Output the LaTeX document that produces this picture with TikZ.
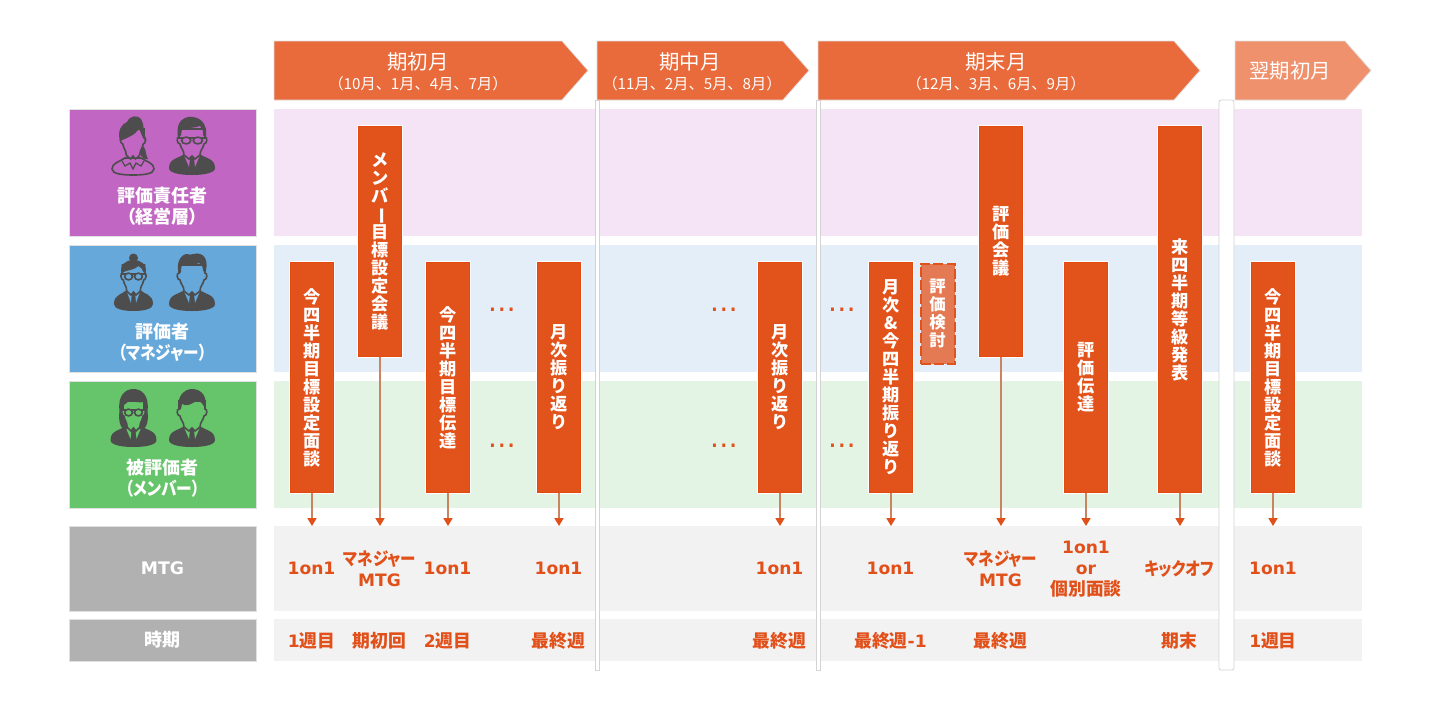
\documentclass[tikz,border=0pt]{standalone}
\usepackage{fontspec}
\usepackage{graphicx}
\usepackage{xcolor}
\usepackage{tikz}
\usetikzlibrary{arrows.meta}

\setmainfont{Noto Sans CJK JP}
\newfontfamily\kanafont[RawFeature=+palt]{Noto Sans CJK JP}
\newfontfamily\slimkana[RawFeature=+palt, FakeStretch=0.87]{Noto Sans CJK JP}
\newfontfamily\latn[Scale=0.96]{DejaVu Sans}
\newcommand{\lat}[1]{{\latn\bfseries #1}}
\newcommand{\slim}[1]{{\slimkana\bfseries #1}}
\newcommand{\tatebar}{\rotatebox[origin=c]{-90}{ー}}
\newcommand{\tightlines}{\setlength{\lineskiplimit}{-20pt}}

\definecolor{headorange}{HTML}{E96A3B}
\definecolor{headpale}{HTML}{EF916C}
\definecolor{barorange}{HTML}{E2521B}
\definecolor{barline}{HTML}{E4490F}
\definecolor{barpale}{HTML}{E37A53}
\definecolor{textorange}{HTML}{E2501A}
\definecolor{arrowline}{HTML}{C98562}
\definecolor{rowpurple}{HTML}{C166C2}
\definecolor{rowblue}{HTML}{66A8DA}
\definecolor{rowgreen}{HTML}{66C46A}
\definecolor{rowgrey}{HTML}{B1B1B1}
\definecolor{bandpurple}{HTML}{F5E4F5}
\definecolor{bandblue}{HTML}{E3EEF8}
\definecolor{bandgreen}{HTML}{E3F3E4}
\definecolor{bandgrey}{HTML}{F2F2F2}
\definecolor{icondark}{HTML}{4D4D4D}
\definecolor{stripline}{HTML}{D4D4D4}

\tikzset{
	sized/.style 2 args={minimum width=#1*0.5pt, minimum height=#2*0.5pt, inner sep=0pt, outer sep=0pt},
	rowlabel/.style={fill=#1, draw=black!12, line width=0.25pt, text=white},
	band/.style={fill=#1},
	strip/.style={fill=white, draw=stripline, line width=0.4pt},
	headbar/.style={fill=#1, draw=black!12, line width=0.4pt},
	headmain/.style={text=white, align=center, font=\fontsize{10.2}{12}\selectfont},
	headsub/.style={text=white, align=center, font=\fontsize{7.6}{10}\selectfont},
	whitetext/.style={text=white, align=center, font=\kanafont\fontsize{9}{10.5}\selectfont\bfseries\tightlines},
	vbar/.style={sized={43}{#1}, fill=barorange, draw=barline, line width=0.5pt, preaction={draw=white, line width=1.4pt},
		text=white, align=center, font=\fontsize{8.6}{9}\selectfont\bfseries\tightlines},
	paledbar/.style={sized={34}{100}, fill=barpale, draw=barorange, line width=1pt, dash pattern=on 5pt off 1.6pt,
		text=white, align=center, font=\fontsize{8.2}{9}\selectfont\bfseries\tightlines},
	labeltext/.style={text=textorange, align=center, font=\kanafont\fontsize{8.9}{10.5}\selectfont\bfseries\tightlines},
	moredots/.style={text=textorange, font=\latn\fontsize{14.6}{14}\selectfont},
	toband/.style={draw=arrowline, line width=0.6pt, -{Triangle[length=4pt, width=4.6pt, fill=textorange, color=textorange]}},
	iconline/.style={draw=icondark, line width=0.8pt},
	pics/bust/.style={code={
		\fill[icondark] (-8,37) .. controls (-12,41) and (-23,41) .. (-23,51) .. controls (-23,56) and (-12,58) .. (0,58) .. controls (12,58) and (23,56) .. (23,51) .. controls (23,41) and (12,41) .. (8,37) -- cycle;
		\fill[#1] (-8,38) -- (-2,41) -- (-3,50) -- cycle (8,38) -- (2,41) -- (3,50) -- cycle;
	}},
	pics/outlinebust/.style={code={
		\draw[iconline, fill=#1] (-8,41) .. controls (-14,45) and (-21,46) .. (-21,52) .. controls (-21,57) and (-10,58) .. (0,58) .. controls (10,58) and (21,57) .. (21,52) .. controls (21,46) and (14,45) .. (8,41) -- cycle;
		\draw[iconline, line width=0.6pt] (-11,44) -- (-8,49) -- (-3,46) -- (0,52) -- (3,46) -- (8,49) -- (11,44);
	}},
	pics/face/.style={code={
		\draw[iconline, fill=#1] (-13,12) -- (-13,20) .. controls (-16,20) and (-15,27) .. (-12,27) .. controls (-11,32) and (-8,33) .. (-8,38) -- (-3,42) -- (0,39) -- (3,42) -- (8,38) .. controls (8,33) and (11,32) .. (12,27) .. controls (15,27) and (16,20) .. (13,20) -- (13,12) -- cycle;
	}},
	pics/glasses/.style={code={
		\draw[iconline, line width=0.7pt] (-15,21) -- (15,21);
		\draw[iconline, line width=0.8pt, fill=#1] (-5.8,23.5) ellipse (4.6 and 3.4) (5.8,23.5) ellipse (4.6 and 3.4);
	}},
}

\begin{document}
\begin{tikzpicture}[x=0.5pt, y=-0.5pt]
	\useasboundingbox (0,0) rectangle (1440,720);
	\fill[white] (0,0) rectangle (1440,720);

	\node[sized={1088}{127}, band=bandpurple] (bandtop) at (818,172.5) {};
	\node[sized={1088}{127}, band=bandblue] (bandmid) at (818,308.5) {};
	\node[sized={1088}{127}, band=bandgreen] (bandlow) at (818,444.5) {};
	\node[sized={1088}{85}, band=bandgrey] (bandmtg) at (818,568.5) {};
	\node[sized={1088}{42}, band=bandgrey] (bandtime) at (818,640) {};

	\node[sized={4}{570}, strip] (strip1) at (597.5,385) {};
	\node[sized={4}{570}, strip] (strip2) at (818.5,385) {};
	\node[sized={15}{570}, strip, rounded corners=1pt] (strip3) at (1226.5,385) {};

	\path[headbar=headorange] (274,41) -- (562,41) -- (588,70.5) -- (562,100) -- (274,100) -- cycle;
	\path[headbar=headorange] (597,41) -- (783,41) -- (809,70.5) -- (783,100) -- (597,100) -- cycle;
	\path[headbar=headorange] (818,41) -- (1174,41) -- (1200,70.5) -- (1174,100) -- (818,100) -- cycle;
	\path[headbar=headpale] (1235,41) -- (1345,41) -- (1371,70.5) -- (1345,100) -- (1235,100) -- cycle;
	\node[headmain] (head1) at (418,62) {期初月};
	\node[headsub] (sub1) at (418,84) {（10月、1月、4月、7月）};
	\node[headmain] (head2) at (690,62) {期中月};
	\node[headsub] (sub2) at (692,84) {（11月、2月、5月、8月）};
	\node[headmain] (head3) at (996,62) {期末月};
	\node[headsub] (sub3) at (996,84) {（12月、3月、6月、9月）};
	\node[headmain] (head4) at (1290,70.5) {翌期初月};

	\node[sized={187}{127}, rowlabel=rowpurple] (rowtop) at (162.5,172.5) {};
	\node[sized={187}{127}, rowlabel=rowblue] (rowmid) at (162.5,308.5) {};
	\node[sized={187}{127}, rowlabel=rowgreen] (rowlow) at (162.5,444.5) {};
	\node[sized={187}{85}, rowlabel=rowgrey] (rowmtg) at (162.5,568.5) {};
	\node[sized={187}{42}, rowlabel=rowgrey] (rowtime) at (162.5,640) {};
	\node[whitetext] (toplabel) at (162.5,206) {評価責任者\\（経営層）};
	\node[whitetext] (midlabel) at (162.5,342) {評価者\\\slim{（マネジャー）}};
	\node[whitetext] (lowlabel) at (162.5,478) {被評価者\\\slim{（メンバー）}};
	\node[whitetext] (mtglabel) at (162.5,568.5) {\lat{MTG}};
	\node[whitetext] (timelabel) at (162.5,640) {時期};

	\begin{scope}[shift={(133,117)}]
		\pic {outlinebust=rowpurple};
		\pic[xscale=0.85] {face=rowpurple};
		\fill[icondark] (-13,24) .. controls (-16,13) and (-11,7) .. (-6,5) .. controls (-3,-2) and (5,-2) .. (8,2) .. controls (12,8) and (10,16) .. (12,24) .. controls (9,20) and (8,15) .. (6,12) .. controls (2,18) and (-6,21) .. (-13,24) -- cycle;
		\fill[icondark] (10,29) .. controls (14,33) and (12,37) .. (15,42) .. controls (11,43) and (8,40) .. (7,36) -- cycle;
	\end{scope}
	\begin{scope}[shift={(192,117)}]
		\pic {bust=rowpurple};
		\pic {face=rowpurple};
		\fill[icondark] (-14,21) .. controls (-16,8) and (-12,2) .. (-4,0) .. controls (5,-1) and (16,3) .. (14,21) -- (11,18) .. controls (12,14) and (10,11) .. (8,9) .. controls (0,12) and (-8,10) .. (-10,12) -- (-11,18) -- cycle;
		\pic {glasses=rowpurple};
	\end{scope}
	\begin{scope}[shift={(133.5,253)}]
		\fill[icondark] (0,5) circle (4.5);
		\pic[xscale=0.85] {bust=rowblue};
		\pic[xscale=0.85] {face=rowblue};
		\fill[icondark] (-12,20) .. controls (-14,12) and (-8,7) .. (0,7) .. controls (8,7) and (14,12) .. (12,20) -- (10,19) .. controls (9,16) and (7,14) .. (5,13) .. controls (1,17) and (-6,17) .. (-10,19) -- cycle;
		\pic[xscale=0.85] {glasses=rowblue};
	\end{scope}
	\begin{scope}[shift={(192,253)}]
		\pic {bust=rowblue};
		\pic {face=rowblue};
		\fill[icondark] (-13,21) .. controls (-16,12) and (-13,3) .. (-6,1) .. controls (0,3) and (4,-1) .. (8,1) .. controls (15,3) and (16,12) .. (13,21) -- (11,17) .. controls (11,13) and (9,11) .. (7,10) .. controls (0,13) and (-6,12) .. (-9,11) .. controls (-11,13) and (-11,17) .. (-11,19) -- cycle;
	\end{scope}
	\begin{scope}[shift={(133.5,389)}]
		\pic {bust=rowgreen};
		\fill[icondark] (-14,22) .. controls (-16,6) and (-8,0) .. (0,0) .. controls (8,0) and (16,6) .. (14,22) .. controls (15,30) and (14,38) .. (10,40) -- (-10,40) .. controls (-14,38) and (-15,30) .. (-14,22) -- cycle;
		\pic[xscale=0.8] {face=rowgreen};
		\fill[icondark] (-11,17) .. controls (-10,10) and (-5,7) .. (0,7) .. controls (5,7) and (10,10) .. (11,17) -- (11,13) .. controls (5,14) and (0,13) .. (-3,10) .. controls (-5,13) and (-8,15) .. (-11,17) -- cycle;
		\pic[xscale=0.85] {glasses=rowgreen};
	\end{scope}
	\begin{scope}[shift={(192,389)}]
		\pic {bust=rowgreen};
		\pic {face=rowgreen};
		\fill[icondark] (-13,21) .. controls (-16,8) and (-8,0) .. (0,0) .. controls (10,0) and (16,8) .. (13,21) .. controls (12,15) and (8,12) .. (5,11) .. controls (1,15) and (-6,18) .. (-10,15) -- (-11,20) -- cycle;
	\end{scope}

	\node[vbar=230] (goalfirst) at (312,377.5) {今\\四\\半\\期\\目\\標\\設\\定\\面\\談};
	\node[vbar=230] (kickmeeting) at (380,241.5) {メ\\ン\\バ\\\tatebar\\目\\標\\設\\定\\会\\議};
	\node[vbar=230] (goaltell) at (448,377.5) {今\\四\\半\\期\\目\\標\\伝\\達};
	\node[vbar=230] (review1) at (559,377.5) {月\\次\\振\\り\\返\\り};
	\node[vbar=230] (review2) at (780,377.5) {月\\次\\振\\り\\返\\り};
	\node[vbar=230] (review3) at (891,377.5) {月\\次\\\&\\今\\四\\半\\期\\振\\り\\返\\り};
	\node[paledbar] (hyoka) at (937.5,313.5) {評\\価\\検\\討};
	\node[vbar=230] (council) at (1001,241.5) {評\\価\\会\\議};
	\node[vbar=230] (feedback) at (1086,377.5) {評\\価\\伝\\達};
	\node[vbar=366] (gradeout) at (1180,309.5) {来\\四\\半\\期\\等\\級\\発\\表};
	\node[vbar=230] (goalnext) at (1273,377.5) {今\\四\\半\\期\\目\\標\\設\\定\\面\\談};

	\draw[toband] (goalfirst.south) -- (goalfirst.south |- bandmtg.north);
	\draw[toband] (kickmeeting.south) -- (kickmeeting.south |- bandmtg.north);
	\draw[toband] (goaltell.south) -- (goaltell.south |- bandmtg.north);
	\draw[toband] (review1.south) -- (review1.south |- bandmtg.north);
	\draw[toband] (review2.south) -- (review2.south |- bandmtg.north);
	\draw[toband] (review3.south) -- (review3.south |- bandmtg.north);
	\draw[toband] (council.south) -- (council.south |- bandmtg.north);
	\draw[toband] (feedback.south) -- (feedback.south |- bandmtg.north);
	\draw[toband] (gradeout.south) -- (gradeout.south |- bandmtg.north);
	\draw[toband] (goalnext.south) -- (goalnext.south |- bandmtg.north);

	\node[moredots] (dots1) at (502,310) {…};
	\node[moredots] (dots2) at (502,446) {…};
	\node[moredots] (dots3) at (724,310) {…};
	\node[moredots] (dots4) at (724,446) {…};
	\node[moredots] (dots5) at (842,310) {…};
	\node[moredots] (dots6) at (842,446) {…};

	\node[labeltext] (mtg1) at (311.5,568.5) {\lat{1on1}};
	\node[labeltext] (mtg2) at (379.5,569) {\slim{マネジャー}\\\lat{MTG}};
	\node[labeltext] (mtg3) at (447.5,568.5) {\lat{1on1}};
	\node[labeltext] (mtg4) at (558.5,568.5) {\lat{1on1}};
	\node[labeltext] (mtg5) at (779.5,568.5) {\lat{1on1}};
	\node[labeltext] (mtg6) at (890.5,568.5) {\lat{1on1}};
	\node[labeltext] (mtg7) at (1000.5,569) {\slim{マネジャー}\\\lat{MTG}};
	\node[labeltext] (mtg8) at (1086,569) {\lat{1on1}\\\lat{or}\\個別面談};
	\node[labeltext] (mtg9) at (1179,568.5) {\slim{キックオフ}};
	\node[labeltext] (mtg10) at (1273,568.5) {\lat{1on1}};

	\node[labeltext] (when1) at (311.5,640.5) {\lat{1}週目};
	\node[labeltext] (when2) at (379.5,640.5) {期初回};
	\node[labeltext] (when3) at (447.5,640.5) {\lat{2}週目};
	\node[labeltext] (when4) at (558.5,640.5) {最終週};
	\node[labeltext] (when5) at (779.5,640.5) {最終週};
	\node[labeltext] (when6) at (890.5,640.5) {最終週\lat{-1}};
	\node[labeltext] (when7) at (1000.5,640.5) {最終週};
	\node[labeltext] (when8) at (1179,640.5) {期末};
	\node[labeltext] (when9) at (1273,640.5) {\lat{1}週目};
\end{tikzpicture}
\end{document}
